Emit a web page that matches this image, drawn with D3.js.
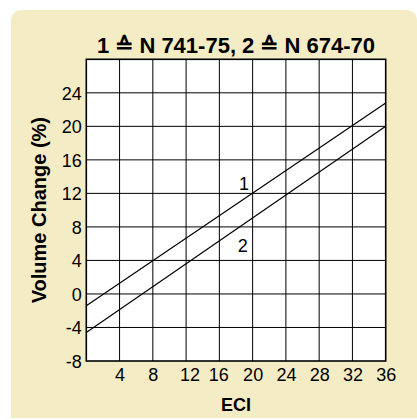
<!DOCTYPE html>
<html>
<head>
<meta charset="utf-8">
<script src="https://cdn.jsdelivr.net/npm/d3@7"></script>
<style>
  html, body { margin: 0; padding: 0; background: #fff; }
  svg { display: block; }
  text { font-family: "Liberation Sans", Arial, Helvetica, sans-serif; fill: #000; }
</style>
</head>
<body>
<svg id="chart" width="417" height="420"></svg>
<script>
// ECI values along the horizontal axis and gridline ticks
const xTicks = [4, 8, 12, 16, 20, 24, 28, 32, 36];
const yTicks = [-8, -4, 0, 4, 8, 12, 16, 20, 24];

// Straight-line relations, end points at ECI 0 and 36
const series1 = [{ eci: 0, change: -1.4 }, { eci: 36, change: 22.8 }];
const series2 = [{ eci: 0, change: -4.6 }, { eci: 36, change: 20.0 }];

// Curve labels
const curveLabels = [
  { text: "1", eci: 18.95, change: 13.2 },
  { text: "2", eci: 18.8, change: 5.8 }
];

const title = "1 \u2259 N 741-75, 2 \u2259 N 674-70";
const xTitle = "ECI";
const yTitle = "Volume Change (%)";

const svg = d3.select("#chart");

// Panel background
svg.append("path")
  .attr("d", "M11,418 L11,22 Q11,10 23,10 L405,10 Q417,10 417,22 L417,418 Z")
  .attr("fill", "#f3ecc5");

const plot = { left: 86.3, right: 385.7, top: 59.3, bottom: 361 };

const x = d3.scaleLinear().domain([0, 36]).range([plot.left, plot.right]);
const y = d3.scaleLinear().domain([-8, 28]).range([plot.bottom, plot.top]);

// Plot area
svg.append("rect")
  .attr("x", plot.left).attr("y", plot.top)
  .attr("width", plot.right - plot.left)
  .attr("height", plot.bottom - plot.top)
  .attr("fill", "#fff");

// Vertical grid
svg.append("g")
  .selectAll("line")
  .data(xTicks.slice(0, -1))
  .join("line")
  .attr("x1", d => x(d)).attr("x2", d => x(d))
  .attr("y1", plot.top).attr("y2", plot.bottom)
  .attr("stroke", "#000").attr("stroke-width", 1);

// Horizontal grid
svg.append("g")
  .selectAll("line")
  .data(yTicks.slice(1))
  .join("line")
  .attr("x1", plot.left).attr("x2", plot.right)
  .attr("y1", d => y(d)).attr("y2", d => y(d))
  .attr("stroke", "#000").attr("stroke-width", 1);

// Axes (labels only), plain hyphen for negatives
const fmt = d => String(d);
const xAxis = d3.axisBottom(x).tickValues(xTicks).tickFormat(fmt).tickSize(0).tickPadding(0);
const gx = svg.append("g").attr("transform", `translate(0,${plot.bottom})`).call(xAxis);
gx.select(".domain").remove();
gx.selectAll("text")
  .attr("y", 19.7).attr("dy", null)
  .style("font-size", "18px")
  .style("font-family", "'Liberation Sans', Arial, sans-serif")
  .attr("fill", "#000")
  .attr("dx", d => d === 12 ? 3.5 : (d === 16 ? -1 : 0));

const yAxis = d3.axisLeft(y).tickValues(yTicks).tickFormat(fmt).tickSize(0).tickPadding(0);
const gy = svg.append("g").attr("transform", `translate(${plot.left - 4.6},0)`).call(yAxis);
gy.select(".domain").remove();
gy.selectAll("text")
  .attr("x", 0).attr("dy", "0.36em")
  .style("font-size", "18px")
  .style("font-family", "'Liberation Sans', Arial, sans-serif")
  .attr("fill", "#000");

// Relation lines
const line = d3.line().x(d => x(d.eci)).y(d => y(d.change));
[series1, series2].forEach(s => {
  svg.append("path")
    .datum(s)
    .attr("d", line)
    .attr("fill", "none")
    .attr("stroke", "#000")
    .attr("stroke-width", 1.2);
});

// Frame on top so lines end cleanly
svg.append("rect")
  .attr("x", plot.left).attr("y", plot.top)
  .attr("width", plot.right - plot.left)
  .attr("height", plot.bottom - plot.top)
  .attr("fill", "none")
  .attr("stroke", "#000").attr("stroke-width", 1.6);

svg.append("g")
  .selectAll("text")
  .data(curveLabels)
  .join("text")
  .attr("x", d => x(d.eci))
  .attr("y", d => y(d.change))
  .attr("dy", "0.36em")
  .attr("text-anchor", "middle")
  .style("font-size", "18px")
  .text(d => d.text);

// Title
svg.append("text")
  .attr("x", (plot.left + plot.right) / 2)
  .attr("y", 53.3)
  .attr("text-anchor", "middle")
  .style("font-size", "22px")
  .style("font-weight", "bold")
  .text(title);

// Axis titles
svg.append("text")
  .attr("x", (plot.left + plot.right) / 2)
  .attr("y", 411)
  .attr("text-anchor", "middle")
  .style("font-size", "18px")
  .style("font-weight", "bold")
  .text(xTitle);

svg.append("text")
  .attr("transform", `translate(46,${(plot.top + plot.bottom) / 2}) rotate(-90)`)
  .attr("text-anchor", "middle")
  .style("font-size", "20px")
  .style("font-weight", "bold")
  .text(yTitle);
</script>
</body>
</html>
